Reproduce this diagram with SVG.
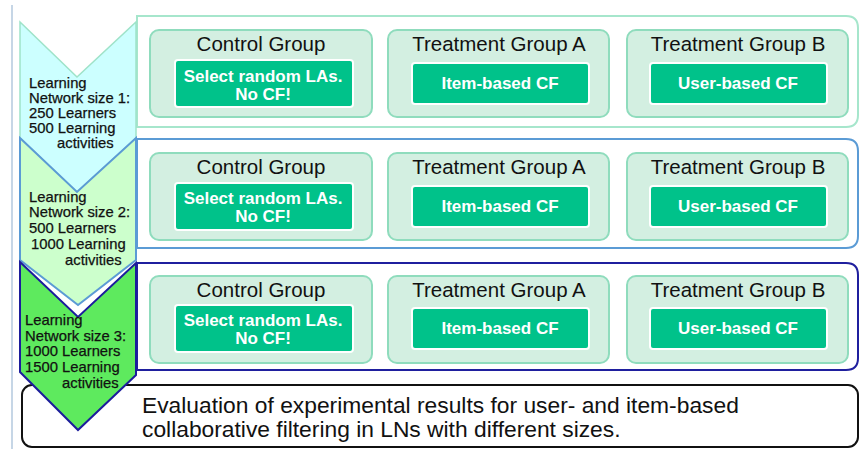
<svg xmlns="http://www.w3.org/2000/svg" width="860" height="449" viewBox="0 0 860 449">
<style>
.grp{fill:#d3efe1;stroke:#8fdcbd;stroke-width:2}
.inner{fill:#00c28a;stroke:#ffffff;stroke-width:2}
.title{font-family:"Liberation Sans",Arial,sans-serif;font-size:20.5px;fill:#111;text-anchor:middle}
.itxt{font-family:"Liberation Sans",Arial,sans-serif;font-size:17px;font-weight:bold;fill:#fff;text-anchor:middle}
.ctxt{font-family:"Liberation Sans",Arial,sans-serif;font-size:14.8px;fill:#111;stroke:#111;stroke-width:0.25}
.eval{font-family:"Liberation Sans",Arial,sans-serif;font-size:22.8px;fill:#111}
</style>
<rect width="860" height="449" fill="#fff"/>
<line x1="12" y1="5" x2="12" y2="449" stroke="#c6d6e6" stroke-width="2"/>

<g id="evaluation">
<rect x="22" y="385" width="836" height="62" rx="10" fill="#fff" stroke="#111" stroke-width="2"/>
<text class="eval" x="142" y="413">Evaluation of experimental results for user- and item-based</text>
<text class="eval" x="142" y="437">collaborative filtering in LNs with different sizes.</text>
</g>

<g id="row1-frame"><path d="M137 16 H846 Q858 16 858 28 V115 Q858 127 846 127 H137 Z" fill="#fff" stroke="#a6e6cc" stroke-width="2"/></g>
<g id="row2-frame"><path d="M137 139 H846 Q858 139 858 151 V236 Q858 248 846 248 H137 Z" fill="#fff" stroke="#5b9bd5" stroke-width="2"/></g>
<g id="row3-frame"><path d="M137 263 H846 Q858 263 858 275 V358 Q858 370 846 370 H137 Z" fill="#fff" stroke="#1f1f9e" stroke-width="2"/></g>

<g id="chevron1"><polygon points="20,22 77,77 136,22 136,138 77,192 20,138" fill="#ccffff" stroke="#9fe3c9" stroke-width="1.5"/></g>
<g id="chevron2"><polygon points="20,138 77,192 136,138 136,260 78,305 20,260" fill="#ccffcc" stroke="#5b9bd5" stroke-width="2"/></g>
<g id="chevron3"><polygon points="20,262 78,317 136,263 136,375 78,430 20,372" fill="#5eea5e" stroke="#1c1c9c" stroke-width="2"/></g>

<g id="chevron1-text">
<text class="ctxt" x="29" y="88">Learning</text>
<text class="ctxt" x="29" y="103">Network size 1:</text>
<text class="ctxt" x="29" y="118">250 Learners</text>
<text class="ctxt" x="29" y="133">500 Learning</text>
<text class="ctxt" x="57" y="148">activities</text>
</g>
<g id="chevron2-text">
<text class="ctxt" x="29" y="202">Learning</text>
<text class="ctxt" x="29" y="217">Network size 2:</text>
<text class="ctxt" x="29" y="233">500 Learners</text>
<text class="ctxt" x="31" y="249">1000  Learning</text>
<text class="ctxt" x="65" y="265">activities</text>
</g>
<g id="chevron3-text">
<text class="ctxt" x="25" y="325">Learning</text>
<text class="ctxt" x="25" y="341">Network size 3:</text>
<text class="ctxt" x="25" y="356">1000 Learners</text>
<text class="ctxt" x="25" y="372">1500 Learning</text>
<text class="ctxt" x="62" y="388">activities</text>
</g>

<g id="r1-control">
<rect class="grp" x="150" y="30" width="222" height="87" rx="9"/>
<text class="title" x="261" y="51">Control Group</text>
<rect class="inner" x="175" y="60" width="178" height="47" rx="3"/>
<text class="itxt" x="263" y="82">Select random LAs.</text>
<text class="itxt" x="263" y="100">No CF!</text>
</g>
<g id="r1-treatA">
<rect class="grp" x="388" y="30" width="221" height="87" rx="9"/>
<text class="title" x="499" y="51">Treatment Group A</text>
<rect class="inner" x="412" y="63" width="177" height="41" rx="3"/>
<text class="itxt" x="500" y="89">Item-based CF</text>
</g>
<g id="r1-treatB">
<rect class="grp" x="627" y="30" width="221" height="87" rx="9"/>
<text class="title" x="738" y="51">Treatment Group B</text>
<rect class="inner" x="650" y="63" width="177" height="41" rx="3"/>
<text class="itxt" x="738" y="89">User-based CF</text>
</g>

<g id="r2-control">
<rect class="grp" x="150" y="153" width="222" height="87" rx="9"/>
<text class="title" x="261" y="174">Control Group</text>
<rect class="inner" x="175" y="183" width="178" height="47" rx="3"/>
<text class="itxt" x="263" y="204">Select random LAs.</text>
<text class="itxt" x="263" y="222">No CF!</text>
</g>
<g id="r2-treatA">
<rect class="grp" x="388" y="153" width="221" height="87" rx="9"/>
<text class="title" x="499" y="174">Treatment Group A</text>
<rect class="inner" x="412" y="186" width="177" height="41" rx="3"/>
<text class="itxt" x="500" y="212">Item-based CF</text>
</g>
<g id="r2-treatB">
<rect class="grp" x="627" y="153" width="221" height="87" rx="9"/>
<text class="title" x="738" y="174">Treatment Group B</text>
<rect class="inner" x="650" y="186" width="177" height="41" rx="3"/>
<text class="itxt" x="738" y="212">User-based CF</text>
</g>

<g id="r3-control">
<rect class="grp" x="150" y="276" width="222" height="87" rx="9"/>
<text class="title" x="261" y="297">Control Group</text>
<rect class="inner" x="175" y="305" width="178" height="47" rx="3"/>
<text class="itxt" x="263" y="326">Select random LAs.</text>
<text class="itxt" x="263" y="344">No CF!</text>
</g>
<g id="r3-treatA">
<rect class="grp" x="388" y="276" width="221" height="87" rx="9"/>
<text class="title" x="499" y="297">Treatment Group A</text>
<rect class="inner" x="412" y="308" width="177" height="41" rx="3"/>
<text class="itxt" x="500" y="334">Item-based CF</text>
</g>
<g id="r3-treatB">
<rect class="grp" x="627" y="276" width="221" height="87" rx="9"/>
<text class="title" x="738" y="297">Treatment Group B</text>
<rect class="inner" x="650" y="308" width="177" height="41" rx="3"/>
<text class="itxt" x="738" y="334">User-based CF</text>
</g>

<g id="connectors"></g>
</svg>
